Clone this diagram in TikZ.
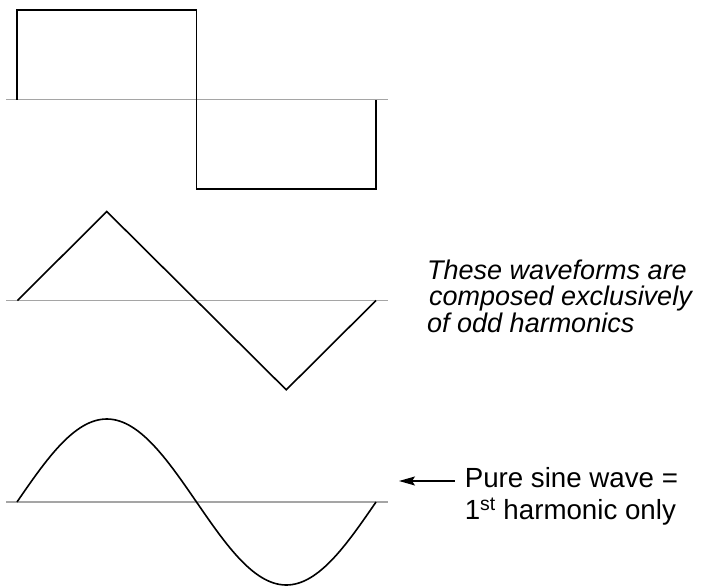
\documentclass[tikz,border=0pt]{standalone}
\usepackage{fontspec}
\setmainfont{Liberation Sans}
\usepackage{tikz}
\usepackage{xcolor}
\usetikzlibrary{positioning,calc,arrows.meta}
\definecolor{axisgray}{RGB}{165,165,165}
\tikzset{
  axisline/.style={draw=axisgray, line width=1.8pt},
  waveline/.style={draw=black, line width=1.6pt, line join=miter},
  notetext/.style={
    inner sep=0pt, anchor=north west, align=left,
    font=\fontsize{27}{26.5}\selectfont\itshape
  },
  sidetext/.style={
    inner sep=0pt, anchor=north west, align=left,
    font=\fontsize{27.7}{32.6}\selectfont
  },
  pointer/.style={-{Stealth[length=16pt,width=9pt,inset=3pt]}, line width=1.2pt},
}

\begin{document}
\begin{tikzpicture}[x=1pt,y=-1pt]
\useasboundingbox (0,0) rectangle (704,586);

%% ── Axes ─────────────────────────────────────────────────────────────────
\foreach \ay in {99.5,300.5,502} {
  \draw[axisline] (6,\ay) -- (388,\ay);
}

%% ── Square wave ──────────────────────────────────────────────────────────
\draw[waveline] (17,99.5) -- (17,10) -- (196.5,10) -- (196.5,189)
  -- (376,189) -- (376,99.5);

%% ── Triangle wave ────────────────────────────────────────────────────────
\draw[waveline] (17.5,300.5) -- (106.75,211.5) -- (286.25,389.8) -- (376,300.5);

%% ── Sine wave ────────────────────────────────────────────────────────────
\draw[waveline] plot[domain=0:360, samples=120, smooth]
  ({17+0.99722*\x}, {502-83*sin(\x)});

%% ── Labels ───────────────────────────────────────────────────────────────
\node[notetext] (oddnote) at (427,259.5) {%
  These waveforms are\\
  \hspace*{2pt}composed exclusively\\
  of odd harmonics};

\node[sidetext] (puretext) at (464.6,466.9) {%
  Pure sine wave =\\
  1\textsuperscript{st} harmonic only};

\coordinate (puretip) at (399,481);
\draw[pointer] ([xshift=-10pt]puretext.west |- puretip) -- (puretip);

\end{tikzpicture}
\end{document}
